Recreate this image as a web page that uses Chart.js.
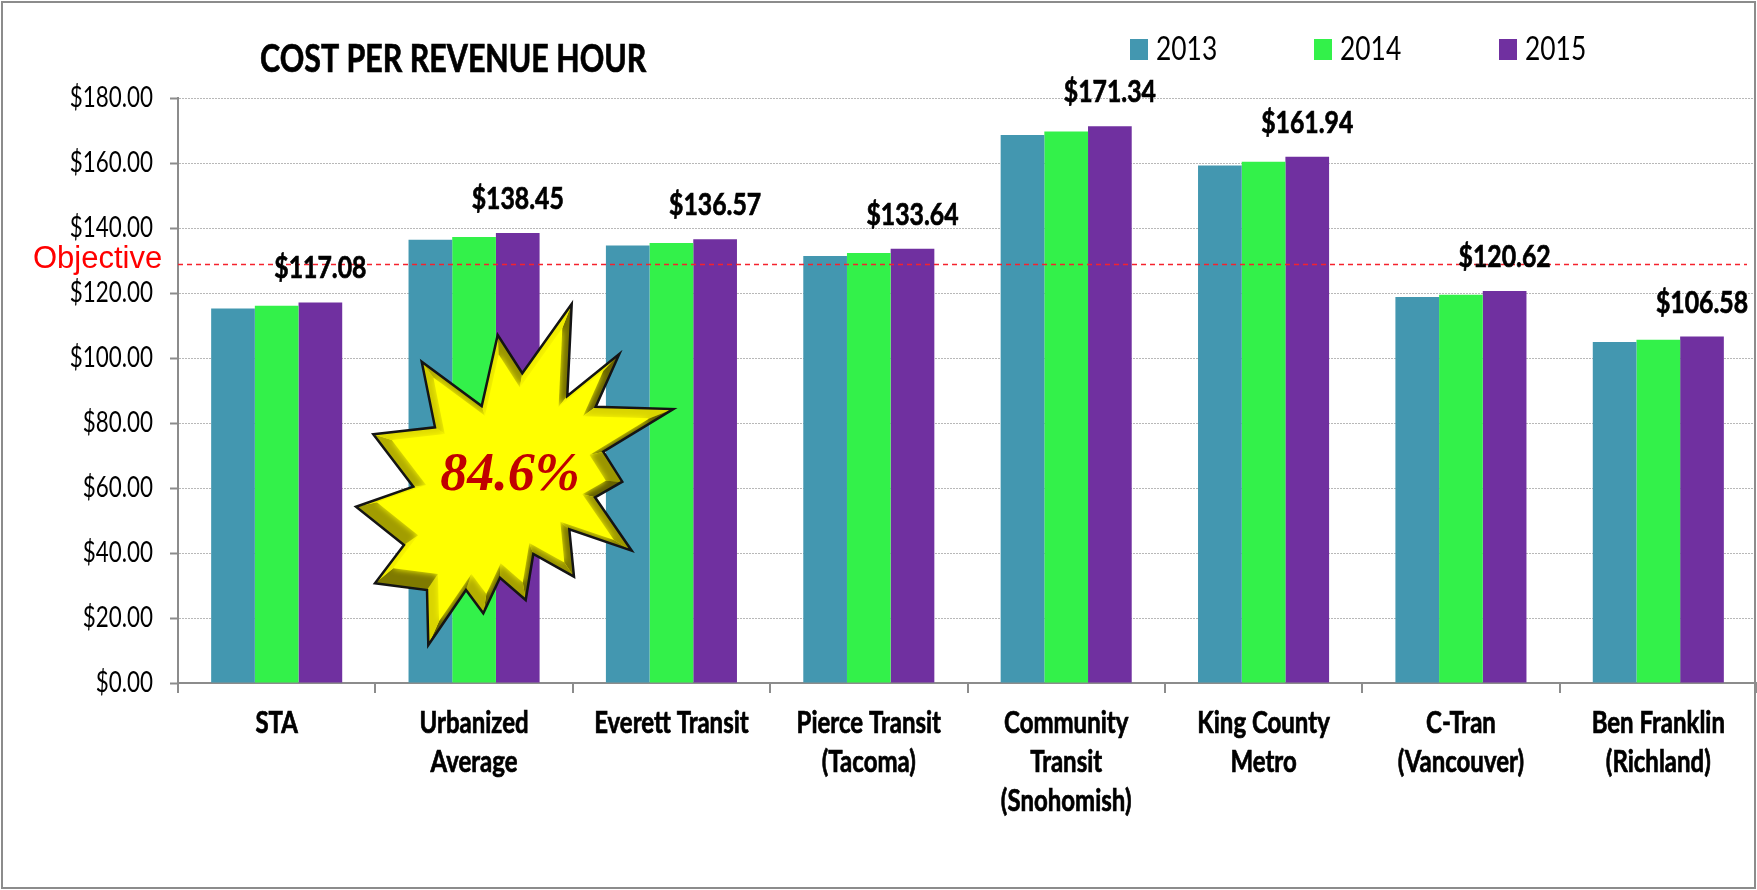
<!DOCTYPE html>
<html>
<head>
<meta charset="utf-8">
<title>Cost per revenue hour</title>
<script src="https://cdn.jsdelivr.net/npm/chart.js@4"></script>
<style>
    html, body { margin: 0; padding: 0; background: #fff; }
    #wrap { position: relative; width: 1757px; height: 890px; overflow: hidden; }
    #frame { position: absolute; left: 1px; top: 1px; right: 1px; bottom: 1px; border: 2px solid #8c8c8c; pointer-events: none; }
</style>
</head>
<body>
<div id="wrap">
    <canvas id="chart" width="1757" height="890"></canvas>
    <div id="frame"></div>
</div>
<script>
const categories = ['STA', ['Urbanized', 'Average'], 'Everett Transit', ['Pierce Transit', '(Tacoma)'],
    ['Community', 'Transit', '(Snohomish)'], ['King County', 'Metro'], ['C-Tran', '(Vancouver)'], ['Ben Franklin', '(Richland)']];
const values2013 = [115.2, 136.4, 134.6, 131.4, 168.6, 159.2, 118.8, 104.9];
const values2014 = [116.1, 137.2, 135.4, 132.3, 169.7, 160.4, 119.5, 105.6];
const values2015 = [117.08, 138.45, 136.57, 133.64, 171.34, 161.94, 120.62, 106.58];
const objective = 128.8;

const starPoints = [[571.7, 304], [567.3, 396], [619.3, 354], [595.7, 406.7], [673.3, 409], [603.3, 451.7],
    [622.3, 481.7], [595, 497.3], [631.7, 550.7], [569.3, 529.3], [574, 576.7], [533.3, 554], [525.7, 600],
    [500, 577.7], [483.3, 613.3], [466, 590], [428.3, 645], [427, 590], [375, 583.3], [404, 545], [356, 506.7],
    [413.3, 486.7], [373.3, 434.3], [435, 427.3], [421.7, 361.7], [481.7, 406], [497.7, 335], [522.3, 373.3]];

const canvas = document.getElementById('chart');
const ctx = canvas.getContext('2d');

// the original font is a tall narrow one, so Lato gets squeezed sideways
const plainFillText = ctx.fillText.bind(ctx);
const plainStrokeText = ctx.strokeText.bind(ctx);
ctx.fillText = function (text, x, y) {
    if (!ctx.font.includes('Lato')) {
        plainFillText(text, x, y);
        return;
    }
    ctx.save();
    ctx.translate(x, y);
    ctx.scale(0.8, 1);
    if (ctx.font.includes('bold')) {
        ctx.strokeStyle = ctx.fillStyle;
        ctx.lineWidth = 0.7;
        plainStrokeText(text, 0, 0);
    }
    plainFillText(text, 0, 0);
    ctx.restore();
};

function trace(c, pts) {
    c.beginPath();
    pts.forEach((p, i) => { if (i === 0) c.moveTo(p[0], p[1]); else c.lineTo(p[0], p[1]); });
    c.closePath();
}

function draw_star(c) {
    const cx = 505, cy = 475;
    const inner = starPoints.map((p) => [cx + (p[0] - cx) * 0.86, cy + (p[1] - cy) * 0.86]);
    c.save();
    trace(c, starPoints);
    c.fillStyle = '#ffff00';
    c.fill();
    c.clip();
    // bevel, one quad per edge, darker when the edge faces lower right
    starPoints.forEach((p, i) => {
        const j = (i + 1) % starPoints.length;
        const q = starPoints[j];
        const len = Math.hypot(q[0] - p[0], q[1] - p[1]);
        const shade = ((q[1] - p[1]) - (q[0] - p[0])) / len / Math.SQRT2 / 2 + 0.5;
        c.fillStyle = 'rgb(' + Math.round(240 - 140 * shade) + ',' + Math.round(235 - 140 * shade) + ',0)';
        trace(c, [p, q, inner[j], inner[i]]);
        c.fill();
    });
    c.filter = 'blur(3px)';
    trace(c, inner);
    c.fillStyle = '#ffff00';
    c.fill();
    c.restore();
    trace(c, starPoints);
    c.strokeStyle = '#141414';
    c.lineWidth = 2.5;
    c.stroke();
    c.fillStyle = '#c00000';
    c.font = 'italic bold 54px "Liberation Serif", serif';
    c.textAlign = 'center';
    c.textBaseline = 'middle';
    c.fillText('84.6%', 510, 476);
}

const overlay = {
    id: 'overlay',
    afterDraw(chart) {
        const c = chart.ctx;
        const area = chart.chartArea;
        const yPos = chart.scales.y.getPixelForValue(objective);
        c.save();

        // objective line
        c.strokeStyle = '#f5222d';
        c.lineWidth = 1.5;
        c.setLineDash([5, 4]);
        c.beginPath();
        c.moveTo(area.left, yPos);
        c.lineTo(area.right - 10, yPos);
        c.stroke();
        c.setLineDash([]);

        c.fillStyle = '#ff0000';
        c.font = '31px "Liberation Sans", sans-serif';
        c.textAlign = 'left';
        c.textBaseline = 'alphabetic';
        c.fillText('Objective', 33, 268);

        // values over the 2015 bars
        c.fillStyle = '#000';
        c.font = 'bold 31px Lato, sans-serif';
        c.textAlign = 'center';
        c.textBaseline = 'middle';
        chart.getDatasetMeta(2).data.forEach((bar, i) => {
            c.fillText('$' + values2015[i].toFixed(2), bar.x, bar.y - 34);
        });

        // title
        c.font = 'bold 38px Lato, sans-serif';
        c.textAlign = 'left';
        c.fillText('COST PER REVENUE HOUR', 260, 60);

        // legend
        const legendX = [1130, 1314, 1499];
        chart.data.datasets.forEach((d, i) => {
            c.fillStyle = d.backgroundColor;
            c.fillRect(legendX[i], 39, 18, 21);
            c.fillStyle = '#000';
            c.font = '33px Lato, sans-serif';
            c.fillText(d.label, legendX[i] + 26, 49);
        });

        draw_star(c);
        c.restore();
    }
};

const mainChart = new Chart(canvas, {
    type: 'bar',
    data: {
        labels: categories,
        datasets: [
            { label: '2013', data: values2013, backgroundColor: '#4397b0' },
            { label: '2014', data: values2014, backgroundColor: '#33f14a' },
            { label: '2015', data: values2015, backgroundColor: '#7030a0' },
        ],
    },
    options: {
        responsive: false,
        animation: false,
        layout: { padding: { top: 98, right: 0, left: 0, bottom: 0 } },
        datasets: { bar: { barPercentage: 1, categoryPercentage: 0.664, borderWidth: 0 } },
        plugins: { legend: { display: false }, title: { display: false }, tooltip: { enabled: false } },
        scales: {
            x: {
                afterFit: (s) => { s.height = 207; },
                border: { color: '#8c8c8c', width: 2 },
                grid: { drawOnChartArea: false, color: '#8c8c8c', lineWidth: 2, tickLength: 10 },
                ticks: {
                    color: '#000',
                    padding: 11,
                    maxRotation: 0,
                    autoSkip: false,
                    font: { family: 'Lato, sans-serif', size: 30, weight: 'bold', lineHeight: 1.3 },
                },
            },
            y: {
                min: 0,
                max: 180,
                afterFit: (s) => { s.width = 178; },
                border: { color: '#8c8c8c', width: 2, dash: [2, 1] },
                grid: { color: '#b8b8b8', lineWidth: 1, tickColor: '#8c8c8c', tickWidth: 2, tickLength: 8, tickBorderDash: [] },
                ticks: {
                    stepSize: 20,
                    color: '#000',
                    padding: 17,
                    font: { family: 'Lato, sans-serif', size: 28 },
                    callback: (v) => '$' + Number(v).toFixed(2),
                },
            },
        },
    },
    plugins: [overlay],
});
</script>
</body>
</html>
